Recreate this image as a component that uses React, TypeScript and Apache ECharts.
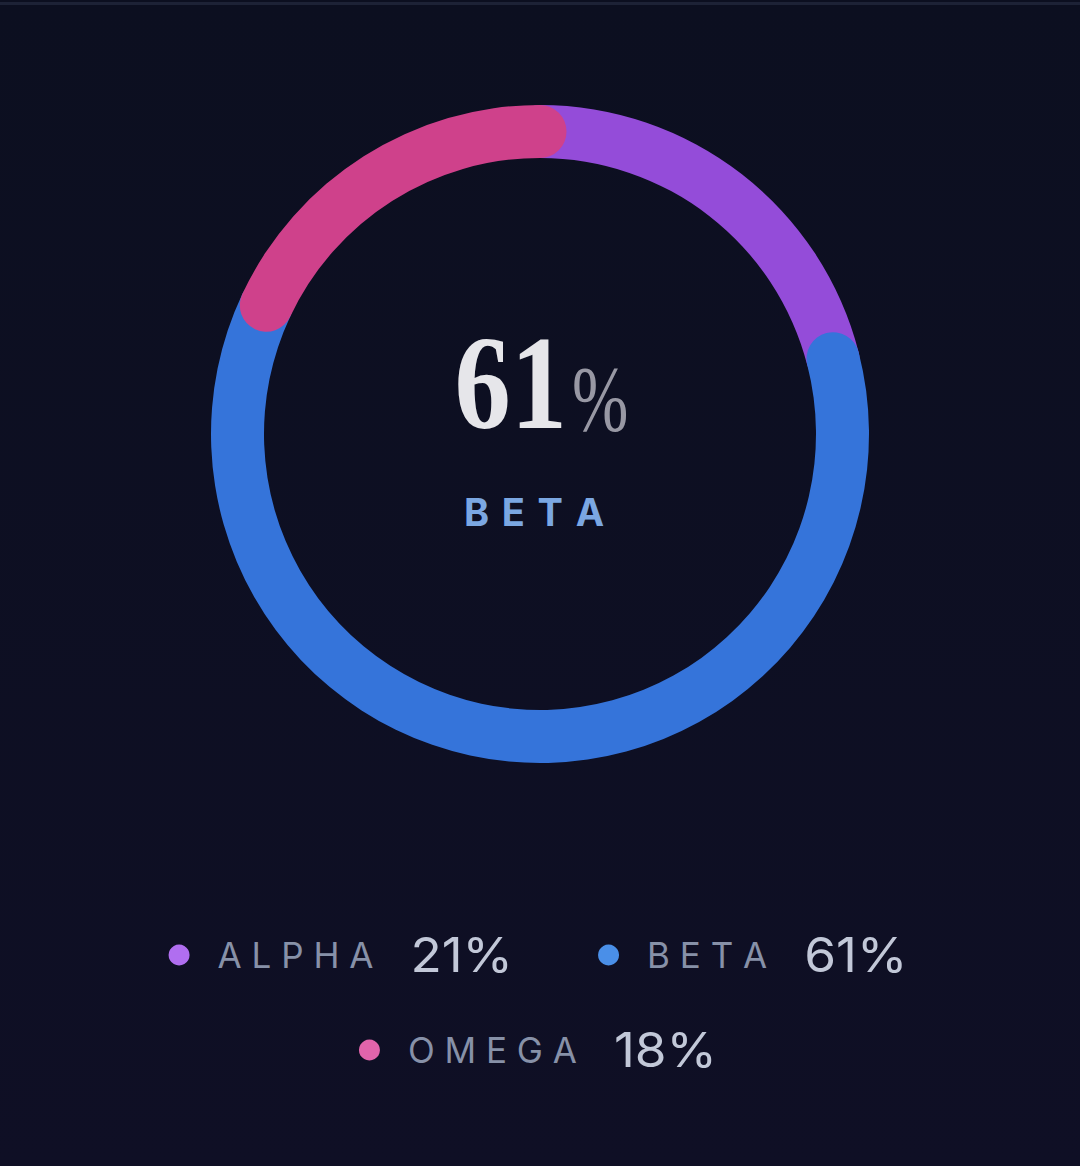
import React, { useEffect, useRef } from "react";
import * as echarts from "echarts";

const categories = ["ALPHA", "BETA", "OMEGA"];
const values = [21, 61, 18];
const ringColors = ["#944cd9", "#3574da", "#cf418b"];
const dotColors = ["#b06ef0", "#4a8fe8", "#e264ab"];

const W = 1080;
const H = 1166;
const CX = 540;
const CY = 434;

function spaced(s: string, sep = " ") {
  return s.split("").join(sep);
}

let ctx: CanvasRenderingContext2D | null = null;
function measure(text: string, font: string) {
  if (!ctx) ctx = document.createElement("canvas").getContext("2d");
  if (!ctx) return text.length * 20;
  ctx.font = font;
  return ctx.measureText(text).width;
}

export default function App() {
  const ref = useRef<HTMLDivElement>(null);
  useEffect(() => {
    document.body.style.margin = "0";
    document.body.style.background = "#0d1022";
    const chart = echarts.init(ref.current as HTMLDivElement, null, { renderer: "svg" });
    const total = values.reduce((a, b) => a + b, 0);
    const pct = values.map((v) => Math.round((v / total) * 100));
    const topIdx = pct.indexOf(Math.max(...pct));

    const labelFont = { size: 35, weight: 400, family: "Inter" };
    const valueFont = { size: 48, weight: 400, family: "Inter" };
    const valueScaleX = 1.07;
    const dotR = 10.5;
    const dotToLabel = 38.5;
    const labelToValue = 37;
    const itemGap = 85;
    const maxRow = 900;
    const rowYs = [955, 1050];

    const items = categories.map((c, i) => {
      const lt = spaced(c);
      const vt = pct[i] + "%";
      const lw = measure(lt, `${labelFont.weight} ${labelFont.size}px ${labelFont.family}`);
      const vw = measure(vt, `${valueFont.weight} ${valueFont.size}px ${valueFont.family}`) * valueScaleX;
      const w = dotR + dotToLabel + lw + labelToValue + vw;
      return { i, lt, vt, lw, vw, w };
    });
    const rows: typeof items[] = [];
    let cur: typeof items = [];
    let curW = 0;
    items.forEach((it) => {
      const add = cur.length ? itemGap + it.w : it.w;
      if (cur.length && curW + add > maxRow) {
        rows.push(cur);
        cur = [it];
        curW = it.w;
      } else {
        cur.push(it);
        curW += add;
      }
    });
    if (cur.length) rows.push(cur);

    const legendEls: any[] = [];
    rows.forEach((row, ri) => {
      const rowW = row.reduce((a, it) => a + it.w, 0) + itemGap * (row.length - 1);
      let x = 538 - rowW / 2;
      const y = rowYs[ri] ?? rowYs[0] + ri * 95;
      row.forEach((it) => {
        legendEls.push({
          type: "circle",
          shape: { cx: x + dotR, cy: y, r: dotR },
          style: { fill: dotColors[it.i] },
        });
        const lx = x + dotR + dotToLabel;
        legendEls.push({
          type: "text",
          x: lx,
          y: y,
          style: {
            text: it.lt,
            fontFamily: labelFont.family,
            fontSize: labelFont.size,
            fontWeight: labelFont.weight,
            fill: "#8791a8",
            align: "left",
            verticalAlign: "middle",
          },
        });
        const vx = lx + it.lw + labelToValue;
        legendEls.push({
          type: "text",
          x: vx,
          y: y,
          scaleX: valueScaleX,
          style: {
            text: it.vt,
            fontFamily: valueFont.family,
            fontSize: valueFont.size,
            fontWeight: valueFont.weight,
            fill: "#c2c8d8",
            align: "left",
            verticalAlign: "middle",
          },
        });
        x += it.w + itemGap;
      });
    });

    chart.setOption({
      animation: false,
      backgroundColor: {
        type: "linear",
        x: 0,
        y: 0,
        x2: 0,
        y2: 1,
        colorStops: [
          { offset: 0, color: "#0c0f20" },
          { offset: 1, color: "#0f0f25" },
        ],
      },
      polar: { center: [CX, CY], radius: [276, 329] },
      angleAxis: { type: "value", min: 0, max: total, startAngle: 90, clockwise: true, show: false },
      radiusAxis: { type: "category", data: [""], show: false },
      series: categories.map((c, i) => ({
        type: "bar",
        name: c,
        coordinateSystem: "polar",
        stack: "ring",
        roundCap: true,
        barWidth: "100%",
        silent: true,
        data: [values[i]],
        itemStyle: { color: ringColors[i] },
      })),
      graphic: [
        { type: "rect", shape: { x: 0, y: 2, width: W, height: 3 }, style: { fill: "#1d2236" } },
        {
          type: "text",
          x: 567,
          y: 383,
          scaleX: 0.84,
          style: {
            text: String(pct[topIdx]),
            fontFamily: "Liberation Serif",
            fontWeight: 700,
            fontSize: 134,
            fill: "#e6e6ea",
            align: "right",
            verticalAlign: "middle",
          },
        },
        {
          type: "text",
          x: 572,
          y: 398,
          scaleX: 0.72,
          style: {
            text: "%",
            fontFamily: "Liberation Serif",
            fontWeight: 400,
            fontSize: 94,
            fill: "#9898a4",
            align: "left",
            verticalAlign: "middle",
          },
        },
        {
          type: "text",
          x: 534,
          y: 512,
          style: {
            text: spaced(categories[topIdx], "\u2004"),
            fontFamily: "Inter",
            fontWeight: 700,
            fontSize: 38,
            fill: "#7ba7e2",
            align: "center",
            verticalAlign: "middle",
          },
        },
        ...legendEls,
      ],
    });
    return () => chart.dispose();
  }, []);
  return <div ref={ref} style={{ width: W, height: H }} />;
}
